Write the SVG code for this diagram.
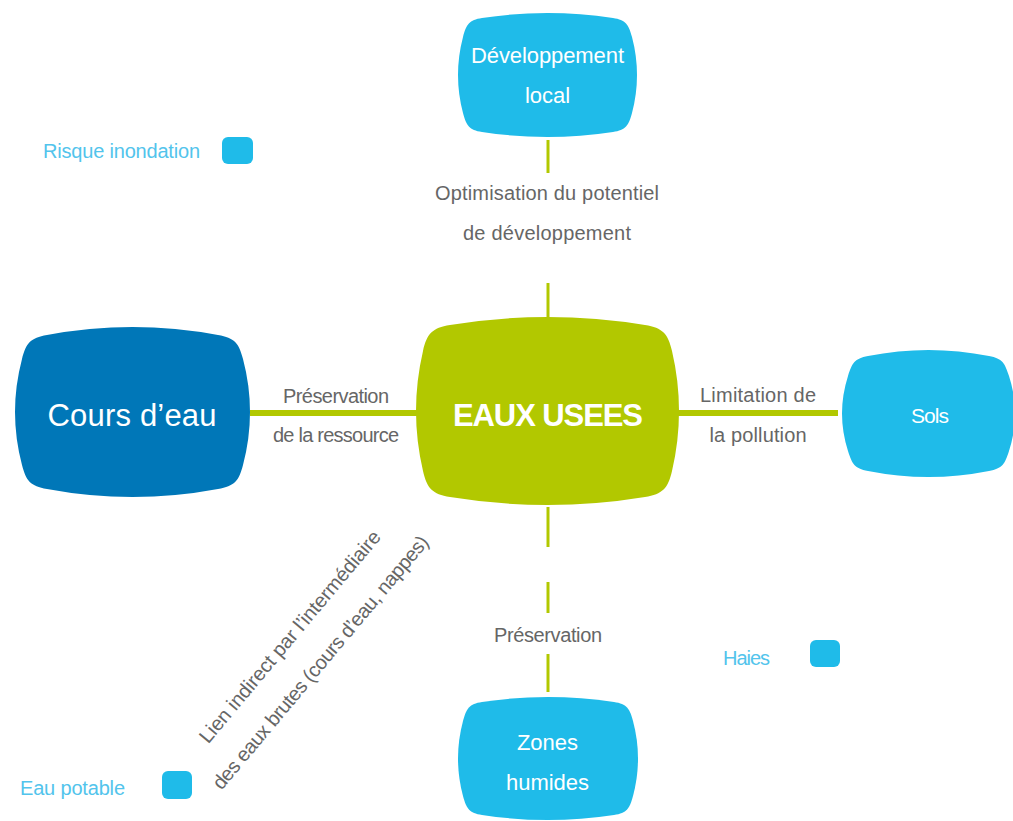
<svg xmlns="http://www.w3.org/2000/svg" width="1013" height="821" viewBox="0 0 1013 821">
<style>
.lb{fill:#1fbbe9}
.db{fill:#0077b8}
.gr{fill:#b2c800}
.nt{font-family:"Liberation Sans",Arial,sans-serif;fill:#ffffff;text-anchor:middle}
.gt{font-family:"Liberation Sans",Arial,sans-serif;fill:#666666;font-size:20px;text-anchor:middle}
.leg{font-family:"Liberation Sans",Arial,sans-serif;fill:#52c4ec;font-size:20px}
.ln{stroke:#b2c800;fill:none}
</style>
<rect width="1013" height="821" fill="#ffffff"/>
<g id="connectors">
<line class="ln" x1="548" y1="140" x2="548" y2="173" stroke-width="3"/>
<line class="ln" x1="548" y1="283" x2="548" y2="318" stroke-width="3"/>
<line class="ln" x1="250" y1="413" x2="418" y2="413" stroke-width="6"/>
<line class="ln" x1="677" y1="413" x2="838" y2="413" stroke-width="6"/>
<line class="ln" x1="548" y1="507" x2="548" y2="547" stroke-width="3"/>
<line class="ln" x1="548" y1="582" x2="548" y2="613" stroke-width="3"/>
<line class="ln" x1="548" y1="654" x2="548" y2="692" stroke-width="3"/>
<text class="gt" x="547" y="200" textLength="224">Optimisation du potentiel</text>
<text class="gt" x="547" y="240" textLength="168">de développement</text>
<text class="gt" x="336" y="403" textLength="106">Préservation</text>
<text class="gt" x="336" y="442" textLength="126">de la ressource</text>
<text class="gt" x="758" y="402" textLength="116">Limitation de</text>
<text class="gt" x="758" y="442" textLength="97">la pollution</text>
<text class="gt" x="548" y="642" textLength="108">Préservation</text>
<g transform="translate(295,641) rotate(-50)">
<text class="gt" x="0" y="0" font-size="19" textLength="270">Lien indirect  par l’intermédiaire</text>
<text class="gt" x="0" y="40" font-size="19" textLength="324">des eaux brutes  (cours d’eau, nappes)</text>
</g>
</g>
<g id="node-developpement">
<path class="lb" d="M482,18 Q547.5,8 613,18 C625.8,20 628.7,24.4 632,37 Q642,75 632,113 C628.7,125.6 625.8,130 613,132 Q547.5,142 482,132 C469.2,130 466.3,125.6 463,113 Q453,75 463,37 C466.3,24.4 469.2,20 482,18 Z"/>
<text class="nt" x="547.5" y="63" font-size="22" textLength="153">Développement</text>
<text class="nt" x="547.5" y="103" font-size="22">local</text>
</g>
<g id="node-eaux-usees">
<path class="gr" d="M450,325 Q547.5,309 645,325 C662.8,327.9 667.9,333.5 672,351 Q686,411 672,471 C667.9,488.5 662.8,494.1 645,497 Q547.5,513 450,497 C432.2,494.1 427.1,488.5 423,471 Q409,411 423,351 C427.1,333.5 432.2,327.9 450,325 Z"/>
<text class="nt" x="548" y="426" font-size="31" font-weight="bold" textLength="190">EAUX USEES</text>
</g>
<g id="node-cours-eau">
<path class="db" d="M47,335 Q132.5,319 218,335 C234.7,338.1 238.7,342.6 243,359 Q257,412 243,465 C238.7,481.4 234.7,485.9 218,489 Q132.5,505 47,489 C30.3,485.9 26.3,481.4 22,465 Q8,412 22,359 C26.3,342.6 30.3,338.1 47,335 Z"/>
<text class="nt" x="132" y="426" font-size="31" textLength="169">Cours d’eau</text>
</g>
<g id="node-sols">
<path class="lb" d="M868,356 Q928.5,344 989,356 C1002.7,358.7 1004.7,362.7 1009,376 Q1021,413.5 1009,451 C1004.7,464.3 1002.7,468.3 989,471 Q928.5,483 868,471 C854.3,468.3 852.3,464.3 848,451 Q836,413.5 848,376 C852.3,362.7 854.3,358.7 868,356 Z"/>
<text class="nt" x="930" y="423" font-size="21" textLength="38">Sols</text>
</g>
<g id="node-zones-humides">
<path class="lb" d="M482,702 Q548,692 614,702 C626.9,704 629.6,708.4 633,721 Q643,758.5 633,796 C629.6,808.6 626.9,813 614,815 Q548,825 482,815 C469.1,813 466.4,808.6 463,796 Q453,758.5 463,721 C466.4,708.4 469.1,704 482,702 Z"/>
<text class="nt" x="547.5" y="750" font-size="22">Zones</text>
<text class="nt" x="547.5" y="790" font-size="22">humides</text>
</g>
<g id="legend-risque">
<text class="leg" x="43" y="158" textLength="157">Risque inondation</text>
<rect class="lb" x="222" y="137" width="31" height="27" rx="6"/>
</g>
<g id="legend-haies">
<text class="leg" x="723" y="665" textLength="47">Haies</text>
<rect class="lb" x="810" y="640" width="30" height="27" rx="6"/>
</g>
<g id="legend-eau-potable">
<text class="leg" x="20" y="795" textLength="105">Eau potable</text>
<rect class="lb" x="162" y="771" width="30" height="28" rx="6"/>
</g>
</svg>
